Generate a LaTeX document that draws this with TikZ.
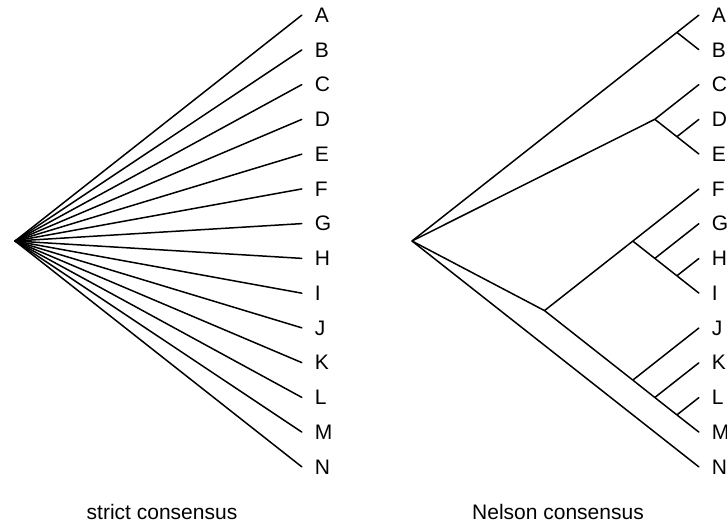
\documentclass[tikz,border=0pt]{standalone}
\usepackage{fontspec}
\setmainfont{Liberation Sans}
\usetikzlibrary{positioning}

\begin{document}
\begin{tikzpicture}[
  x=1bp, y=-1bp,
  hub/.style={inner sep=0pt, minimum size=0pt},
  tip/.style={hub, label={[taxon]right:#1}},
  taxon/.style={font=\fontsize{21bp}{22bp}\selectfont, inner sep=0pt, label distance=12.5bp},
  branch/.style={line width=1.5bp, line cap=round, draw=black},
  caption/.style={font=\fontsize{21bp}{22bp}\selectfont, anchor=base, inner sep=0pt}
]
\useasboundingbox (0,0) rectangle (727,524);
% strict consensus: one polytomy
\node[hub] (sroot) at (15,241) {};
\node[tip=A] (sA) at (302,15.0) {};
\node[tip=B] (sB) at (302,49.8) {};
\node[tip=C] (sC) at (302,84.5) {};
\node[tip=D] (sD) at (302,119.3) {};
\node[tip=E] (sE) at (302,154.1) {};
\node[tip=F] (sF) at (302,188.9) {};
\node[tip=G] (sG) at (302,223.6) {};
\node[tip=H] (sH) at (302,258.4) {};
\node[tip=I] (sI) at (302,293.2) {};
\node[tip=J] (sJ) at (302,327.9) {};
\node[tip=K] (sK) at (302,362.7) {};
\node[tip=L] (sL) at (302,397.5) {};
\node[tip=M] (sM) at (302,432.2) {};
\node[tip=N] (sN) at (302,467.0) {};
\foreach \t in {A,B,C,D,E,F,G,H,I,J,K,L,M,N}
  \draw[branch] (sroot) -- (s\t);
\node[caption] (scap) at (162,519) {strict consensus};

% Nelson consensus
\node[hub] (nroot) at (412,241) {};
\node[tip=A] (nA) at (699,15.0) {};
\node[tip=B] (nB) at (699,49.8) {};
\node[tip=C] (nC) at (699,84.5) {};
\node[tip=D] (nD) at (699,119.3) {};
\node[tip=E] (nE) at (699,154.1) {};
\node[tip=F] (nF) at (699,188.9) {};
\node[tip=G] (nG) at (699,223.6) {};
\node[tip=H] (nH) at (699,258.4) {};
\node[tip=I] (nI) at (699,293.2) {};
\node[tip=J] (nJ) at (699,327.9) {};
\node[tip=K] (nK) at (699,362.7) {};
\node[tip=L] (nL) at (699,397.5) {};
\node[tip=M] (nM) at (699,432.2) {};
\node[tip=N] (nN) at (699,467.0) {};
\node[hub] (nAB) at (676.9,32.4) {};
\node[hub] (nCE) at (654.8,119.3) {};
\node[hub] (nDE) at (676.9,136.7) {};
\node[hub] (nFM) at (544.5,310.6) {};
\node[hub] (nFI) at (632.8,241.1) {};
\node[hub] (nGI) at (654.8,258.4) {};
\node[hub] (nHI) at (676.9,275.8) {};
\node[hub] (nJM) at (632.8,380.1) {};
\node[hub] (nKM) at (654.8,397.5) {};
\node[hub] (nLM) at (676.9,414.9) {};
\foreach \p/\c in {nroot/nAB, nAB/nA, nAB/nB,
    nroot/nCE, nCE/nC, nCE/nDE, nDE/nD, nDE/nE,
    nroot/nFM, nFM/nFI, nFI/nF, nFI/nGI, nGI/nG, nGI/nHI, nHI/nH, nHI/nI,
    nFM/nJM, nJM/nJ, nJM/nKM, nKM/nK, nKM/nLM, nLM/nL, nLM/nM,
    nroot/nN}
  \draw[branch] (\p) -- (\c);
\node[caption] (ncap) at (558,519) {Nelson consensus};
\end{tikzpicture}
\end{document}
